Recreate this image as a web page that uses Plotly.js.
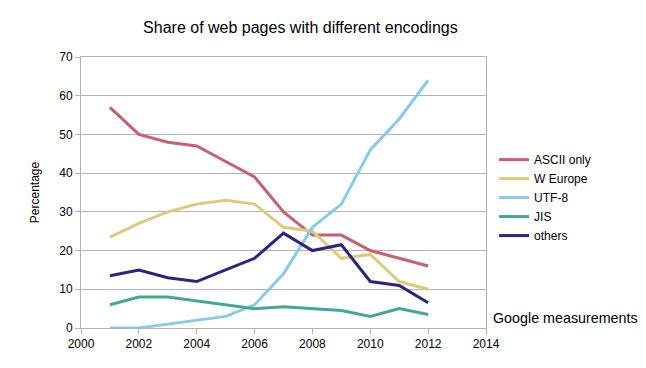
<!DOCTYPE html>
<html><head><meta charset="utf-8">
<script src="https://cdn.plot.ly/plotly-3.0.1.min.js"></script>
<style>body{margin:0;background:#fff}#chart{width:646px;height:368px}</style>
</head><body><div id="chart"></div>
<script>
const years = [2001,2002,2003,2004,2005,2006,2007,2008,2009,2010,2011,2012];
const asciiOnly = [57,50,48,47,43,39,30,24,24,20,18,16];
const wEurope = [23.5,27,30,32,33,32,26,25,18,19,12,10];
const utf8 = [0,0,1,2,3,6,14,26,32,46,54,64];
const jis = [6,8,8,7,6,5,5.5,5,4.5,3,5,3.5];
const others = [13.5,15,13,12,15,18,24.5,20,21.5,12,11,6.5];
const seriesNames = ['ASCII only','W Europe','UTF-8','JIS','others'];
const seriesData = [asciiOnly, wEurope, utf8, jis, others];
const colors = ['#c7606f','#dccb7b','#87cbe8','#46a796','#2d2381'];

const traces = seriesData.map((d,i)=>({
  x: years, y: d, name: seriesNames[i], type:'scatter', mode:'lines',
  line:{color:colors[i], width:3}
}));

const layout = {
  width:646, height:368,
  margin:{l:81, r:160, t:57, b:40},
  paper_bgcolor:'#fff', plot_bgcolor:'#fff',
  font:{family:'Liberation Sans, Arial, sans-serif', size:12, color:'#000'},
  title:{text:'Share of web pages with different encodings', font:{size:16}, x:0.465, xanchor:'center', y:0.925, yanchor:'middle'},
  xaxis:{range:[2000,2014], tickvals:[2000,2002,2004,2006,2008,2010,2012,2014], ticktext:['2000','2002','2004','2006','2008','2010','2012','2014'],
    showgrid:false, zeroline:false, showline:true, linecolor:'#b3b3b3', linewidth:1, mirror:true,
    ticks:'outside', ticklen:5, tickcolor:'#b3b3b3', tickfont:{size:12}},
  yaxis:{range:[0,70], dtick:10, showgrid:true, gridcolor:'#b3b3b3', zeroline:false, showline:true, linecolor:'#b3b3b3', linewidth:1, mirror:true,
    ticks:'outside', ticklen:5, tickcolor:'#b3b3b3', tickfont:{size:12},
    title:{text:'Percentage', font:{size:12}, standoff:17}},
  legend:{x:1.02, y:0.675, xanchor:'left', yanchor:'top', font:{size:12}, bgcolor:'rgba(0,0,0,0)', tracegroupgap:0},
  showlegend:true,
  annotations:[{text:'Google measurements', xref:'paper', yref:'paper', x:1.012, y:0.038, xanchor:'left', yanchor:'middle', showarrow:false, font:{size:14.3}}]
};
Plotly.newPlot('chart', traces, layout, {staticPlot:true});
</script></body></html>
